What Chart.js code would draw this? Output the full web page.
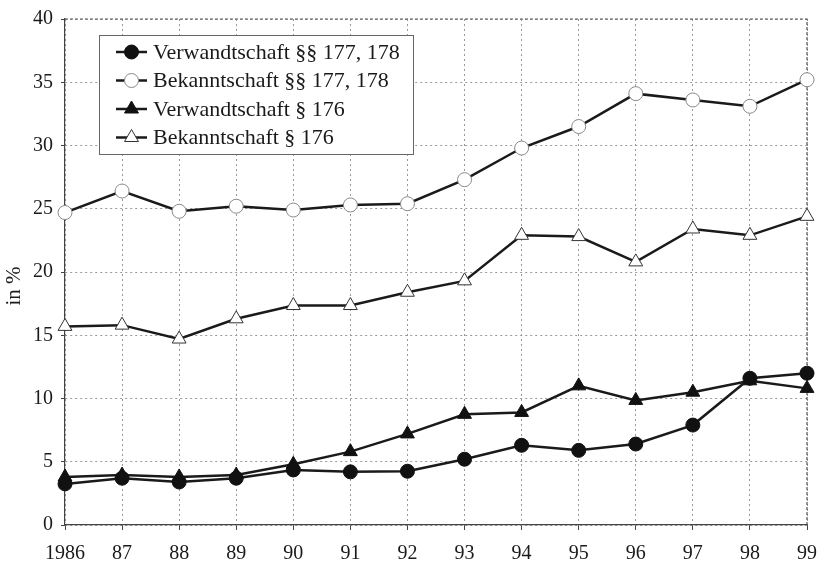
<!DOCTYPE html>
<html>
<head>
<meta charset="utf-8">
<script src="https://cdn.jsdelivr.net/npm/chart.js@4/dist/chart.umd.min.js"></script>
<style>
  html, body { margin: 0; padding: 0; background: #fff; }
  #wrap { width: 820px; height: 561px; }
</style>
</head>
<body>
<div id="wrap"><canvas id="myChart" width="820" height="561"></canvas></div>
<script>
// Jahre (x-Achse)
const years = ["1986", "87", "88", "89", "90", "91", "92", "93", "94", "95", "96", "97", "98", "99"];

// Werte in %
const verwandt177 = [3.25, 3.7, 3.4, 3.7, 4.35, 4.2, 4.25, 5.2, 6.3, 5.9, 6.4, 7.9, 11.6, 12.0];
const bekannt177 = [24.7, 26.4, 24.8, 25.2, 24.9, 25.3, 25.4, 27.3, 29.8, 31.5, 34.1, 33.6, 33.1, 35.2];
const verwandt176 = [3.8, 3.95, 3.8, 3.95, 4.8, 5.8, 7.2, 8.75, 8.9, 11.0, 9.85, 10.5, 11.4, 10.8];
const bekannt176 = [15.7, 15.8, 14.7, 16.3, 17.35, 17.35, 18.4, 19.3, 22.9, 22.8, 20.8, 23.4, 22.9, 24.4];

const seriesLabels = [
  "Verwandtschaft §§ 177, 178",
  "Bekanntschaft §§ 177, 178",
  "Verwandtschaft § 176",
  "Bekanntschaft § 176",
];

const FONT = "'Liberation Serif', 'DejaVu Serif', serif";

function makeSet(label, data, style, fill, border, radius) {
  return {
    label: label,
    data: data,
    borderColor: "#1a1a1a",
    borderWidth: 2.5,
    pointStyle: style,
    pointRadius: radius,
    pointBackgroundColor: fill,
    pointBorderColor: border,
    pointBorderWidth: 1,
    tension: 0,
  };
}

// Rahmen oben/rechts gestrichelt, Achsentitel, Legende
const extras = {
  id: "extras",
  beforeDatasetsDraw(chart) {
    const { ctx, chartArea: a } = chart;
    ctx.save();
    ctx.strokeStyle = "#555";
    ctx.lineWidth = 1.2;
    ctx.setLineDash([3, 2]);
    ctx.beginPath();
    ctx.moveTo(a.left, a.top);
    ctx.lineTo(a.right, a.top);
    ctx.lineTo(a.right, a.bottom);
    ctx.stroke();
    ctx.restore();
  },
  afterDraw(chart) {
    const ctx = chart.ctx;
    ctx.save();
    // y-Achsentitel
    ctx.translate(14, 286);
    ctx.rotate(-Math.PI / 2);
    ctx.font = "21px " + FONT;
    ctx.fillStyle = "#1a1a1a";
    ctx.textAlign = "center";
    ctx.textBaseline = "middle";
    ctx.fillText("in %", 0, 0);
    ctx.restore();

    // Legende
    const x0 = 99, y0 = 35, w = 314, h = 119;
    ctx.save();
    ctx.fillStyle = "#fff";
    ctx.fillRect(x0, y0, w, h);
    ctx.strokeStyle = "#666";
    ctx.lineWidth = 1;
    ctx.strokeRect(x0 + 0.5, y0 + 0.5, w, h);
    ctx.font = "22px " + FONT;
    ctx.textBaseline = "middle";
    chart.data.datasets.forEach((ds, i) => {
      const y = 52 + i * 28.5;
      const cx = 131.5;
      ctx.strokeStyle = ds.borderColor;
      ctx.lineWidth = ds.borderWidth;
      ctx.beginPath();
      ctx.moveTo(116, y);
      ctx.lineTo(147, y);
      ctx.stroke();
      ctx.fillStyle = ds.pointBackgroundColor;
      ctx.strokeStyle = ds.pointBorderColor;
      ctx.lineWidth = ds.pointBorderWidth;
      ctx.beginPath();
      if (ds.pointStyle === "circle") {
        ctx.arc(cx, y, ds.pointRadius, 0, Math.PI * 2);
      } else {
        const r = ds.pointRadius;
        ctx.moveTo(cx, y - r);
        ctx.lineTo(cx + r * 0.87, y + r * 0.5);
        ctx.lineTo(cx - r * 0.87, y + r * 0.5);
        ctx.closePath();
      }
      ctx.fill();
      ctx.stroke();
      ctx.fillStyle = "#1a1a1a";
      ctx.fillText(ds.label, 153, y + 1);
    });
    ctx.restore();
  },
};

const ctx = document.getElementById("myChart").getContext("2d");
new Chart(ctx, {
  type: "line",
  data: {
    labels: years,
    datasets: [
      makeSet(seriesLabels[0], verwandt177, "circle", "#111", "#111", 7),
      makeSet(seriesLabels[1], bekannt177, "circle", "#fff", "#888", 7),
      makeSet(seriesLabels[2], verwandt176, "triangle", "#111", "#111", 8),
      makeSet(seriesLabels[3], bekannt176, "triangle", "#fff", "#333", 8),
    ],
  },
  options: {
    responsive: false,
    animation: false,
    layout: { padding: { top: 19, right: 13, left: 0, bottom: 0 } },
    plugins: {
      legend: { display: false },
      tooltip: { enabled: false },
    },
    scales: {
      x: {
        offset: false,
        grid: {
          color: "#999",
          tickLength: 5,
          tickColor: "#444",
          tickBorderDash: [],
        },
        border: { color: "#444", width: 1.2, dash: [2, 3] },
        ticks: {
          color: "#1a1a1a",
          font: { family: FONT, size: 20 },
          maxRotation: 0,
          autoSkip: false,
          padding: 12,
        },
        afterFit(scale) {
          scale.height = 36;
          scale.paddingLeft = 0;
          scale.paddingRight = 0;
        },
      },
      y: {
        min: 0,
        max: 40,
        ticks: {
          stepSize: 5,
          color: "#1a1a1a",
          font: { family: FONT, size: 20 },
          padding: 8,
        },
        grid: {
          color: "#999",
          tickLength: 4,
          tickColor: "#444",
          tickBorderDash: [],
        },
        border: { color: "#444", width: 1.2, dash: [2, 3] },
        afterFit(scale) {
          scale.width = 65;
          scale.paddingTop = 0;
          scale.paddingBottom = 0;
        },
      },
    },
  },
  plugins: [extras],
});
</script>
</body>
</html>
